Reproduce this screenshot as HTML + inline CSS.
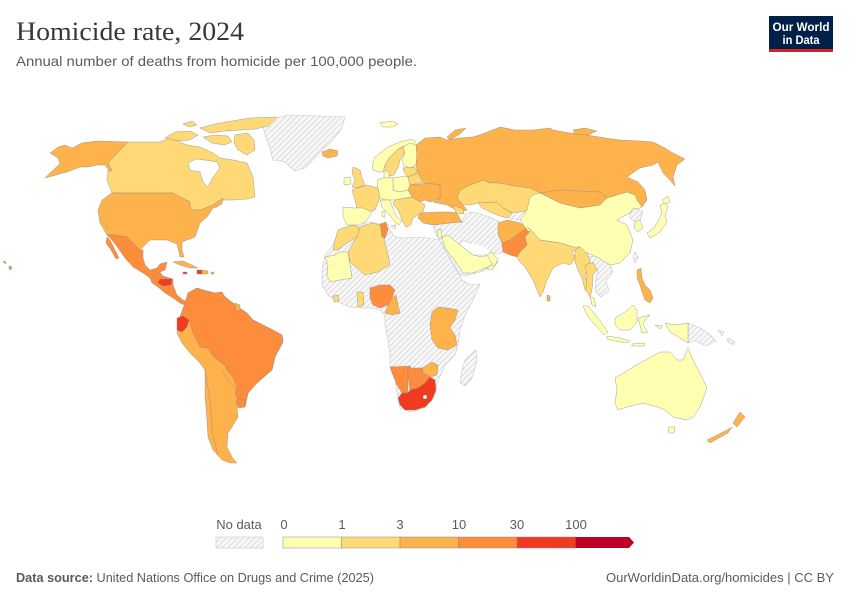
<!DOCTYPE html>
<html><head><meta charset="utf-8"><style>
html,body{margin:0;padding:0;background:#fff;}
svg{display:block;}
</style></head><body>
<svg width="850" height="600" viewBox="0 0 850 600" xmlns="http://www.w3.org/2000/svg">
<defs>
<pattern id="h" width="4" height="4" patternUnits="userSpaceOnUse" patternTransform="rotate(45)">
<rect width="4" height="4" fill="#f8f8f8"/>
<line x1="0" y1="0" x2="0" y2="4" stroke="#d4d4d4" stroke-width="1.6"/>
</pattern>
</defs>
<rect width="850" height="600" fill="#fff"/>

<text x="16" y="40" font-family="Liberation Serif, serif" font-size="26" fill="#383838" textLength="228" lengthAdjust="spacingAndGlyphs">Homicide rate, 2024</text>
<text x="16" y="66" font-family="Liberation Sans, sans-serif" font-size="14" fill="#5b5b5b" textLength="401" lengthAdjust="spacingAndGlyphs">Annual number of deaths from homicide per 100,000 people.</text>

<rect x="769" y="16" width="64" height="33" fill="#002147"/>
<rect x="769" y="49" width="64" height="3" fill="#ce261e"/>
<text x="801" y="31" text-anchor="middle" font-family="Liberation Sans, sans-serif" font-size="12" font-weight="bold" fill="#fff" textLength="57" lengthAdjust="spacingAndGlyphs">Our World</text>
<text x="801" y="44" text-anchor="middle" font-family="Liberation Sans, sans-serif" font-size="12" font-weight="bold" fill="#fff" textLength="37" lengthAdjust="spacingAndGlyphs">in Data</text>

<g stroke="#c8c8c8" stroke-width="0.6" fill="url(#h)" stroke-linejoin="round">
<polygon points="262,120 290,115 345,117 342,128 333,140 320,152 305,168 295,171 285,162 273,160 270,148 265,135"/>
<polygon points="345,228 355,225 370,222 380,224 388,224 390,230 395,237 405,238 418,237 428,238 440,240 442,245 448,255 455,268 462,280 470,285 480,284 473,300 465,315 460,330 458,345 455,355 445,365 437,383 435,395 425,408 410,412 400,408 398,398 395,380 390,368 390,355 388,340 385,325 385,315 380,310 372,308 360,308 350,307 338,302 328,295 322,285 322,270 325,255 333,245 340,232"/>
<polygon points="433,225 450,223 462,222 465,215 470,212 477,213 490,217 500,222 498,235 502,243 503,252 497,254 490,252 480,250 470,243 462,240 460,245 473,255 487,255 498,262 493,268 480,272 465,276 460,275 452,262 445,250 440,241 435,232"/>
<polygon points="510,212 522,210 530,211 528,218 518,220 510,218"/>
<polygon points="470,355 476,350 477,360 472,378 465,386 460,382 462,370 465,360"/>
<polygon points="630,211 638,209 643,212 640,220 635,222 630,218"/>
<polygon points="587,257 597,256 610,265 613,272 606,281 609,290 601,297 595,291 596,279 598,270 591,263"/>
<polygon points="633,258 635,252 638,257 635,263"/>
<polygon points="688,323 700,328 708,333 716,341 706,346 695,341 688,343"/>
<polygon points="718,330 724,332 722,336"/>
<polygon points="728,338 735,342 733,345 727,341"/>
</g>

<g stroke="#8a8a8a" stroke-width="0.5" stroke-opacity="0.8" stroke-linejoin="round">
<polygon fill="#feb24c" points="50,153 58,147 65,145 72,148 82,143 97,141 128,142 108,163 112,170 110,172 105,165 97,165 88,167 80,167 67,172 45,178 53,170 60,164 58,158"/>
<polygon fill="#fed976" points="128,142 160,142 170,138 187,145 200,147 213,153 220,158 233,160 247,163 253,177 255,197 247,199 233,200 223,200 217,207 200,210 190,210 190,202 180,197 173,193 112,193 110,188 107,180 108,170 110,172 112,170 108,163"/>
<polygon fill="#fff" stroke="#8a8a8a" points="188,163 196,159 205,160 217,162 220,168 213,177 208,187 203,182 200,172 190,170"/>
<!-- Arctic islands -->
<polygon fill="#fed976" points="165,138 175,132 190,131 198,135 190,140 178,141"/>
<polygon fill="#fed976" points="200,128 215,124 232,121 250,118 277,117 268,126 255,129 240,130 225,131 210,133"/>
<polygon fill="#fed976" points="203,137 215,135 228,136 232,142 224,145 212,143"/>
<polygon fill="#fed976" points="235,135 248,133 254,140 255,150 247,155 238,150 234,143"/>
<polygon fill="#fed976" points="183,124 192,121 197,125 189,127"/>
<polygon fill="#feb24c" points="112,193 173,193 180,197 190,202 190,210 200,210 213,205 223,198 222,204 213,208 207,217 200,223 195,237 187,240 182,242 182,250 184,257 180,257 177,244 167,240 150,240 143,247 140,250 133,243 127,237 113,235 107,235 100,223 98,210 102,200"/>
<polygon fill="#fd8d3c" points="107,235 113,235 127,237 133,243 140,250 143,250 143,258 145,265 150,270 157,268 160,264 167,262 165,270 160,272 155,275 150,278 143,273 133,267 125,258 118,248 112,240"/>
<polygon fill="#fd8d3c" points="107,237 110,240 115,250 119,258 116,259 111,250 106,243"/>
<polygon fill="#fd8d3c" points="150,278 155,275 160,272 163,276 173,279 173,285 177,295 183,300 188,302 187,306 180,303 173,298 165,293 158,287 152,283"/>
<polygon fill="#f03b20" points="160,279 172,279 171,285 163,286 158,283"/>
<polygon fill="#feb24c" points="173,262 183,261 192,265 198,268 190,268 180,265"/>
<polygon fill="#f03b20" points="197,270 202,270 202,274 197,274"/>
<polygon fill="#feb24c" points="202,270 208,271 208,274 202,274"/>
<polygon fill="#f03b20" points="183,272 187,272 187,274 183,274"/>
<polygon fill="#feb24c" points="211,272 214,272 214,274 211,274"/>
<polygon fill="#fd8d3c" points="3,262 5,261 6,264"/>
<polygon fill="#fd8d3c" points="9,266 12,267 11,270 9,269"/>
<polygon fill="#feb24c" points="188,293 197,288 203,290 215,293 222,292 225,297 233,303 238,307 247,313 253,320 273,330 282,335 283,342 275,357 272,370 257,383 248,393 245,407 237,407 238,417 232,427 228,433 227,447 232,457 237,463 230,463 222,460 213,450 208,437 207,420 205,397 205,370 200,363 190,353 182,343 177,333 178,323 180,317 185,303"/>
<polygon fill="#fd8d3c" points="188,293 197,288 203,290 215,293 222,292 225,297 233,303 238,307 247,313 253,320 273,330 282,335 283,342 275,357 272,370 257,383 248,393 245,407 240,406 238,400 235,393 237,387 233,377 228,372 225,365 215,358 210,350 207,348 200,347 193,333 189,320 180,317 185,303"/>
<polygon fill="#feb24c" points="235,303 240,305 240,311 236,311"/>
<polygon fill="#fd8d3c" points="237,398 245,400 245,407 239,408 236,403"/>
<polygon fill="#f03b20" points="177,318 183,316 189,320 187,327 182,332 177,330"/>
<polyline fill="none" points="207,348 215,358 225,365 228,372 233,377"/>
<polyline fill="none" points="222,370 228,380 236,388"/>
<polyline fill="none" points="205,370 210,400 212,430 218,455"/>
<polygon fill="#feb24c" points="322,152 330,149 338,151 337,156 328,158 323,156"/>
<polygon fill="#ffffb2" points="380,123 392,121 398,124 392,127 383,127"/>
<polygon fill="#ffffb2" points="372,165 375,157 388,147 400,142 412,139 416,142 412,146 403,146 397,150 390,157 385,165 383,172 378,172 373,170"/>
<polygon fill="#fed976" points="385,165 390,157 397,150 403,147 405,152 400,160 398,168 394,175 388,176 385,172"/>
<polygon fill="#ffffb2" points="403,147 410,143 416,145 417,155 416,165 410,168 404,166 402,160 405,153"/>
<polygon fill="#feb24c" points="416,145 425,138 440,137 447,140 460,138 473,137 485,133 500,127 515,130 533,130 550,128 553,130 570,133 587,135 605,138 620,140 640,141 653,142 663,147 673,153 685,159 677,165 673,177 675,186 668,178 663,173 658,162 653,165 640,168 627,177 638,182 645,190 647,200 642,207 637,200 635,195 627,192 607,198 600,205 580,208 560,203 540,193 535,194 530,188 515,186 500,183 490,183 483,180 470,185 460,190 457,198 463,205 467,210 460,212 447,205 433,202 440,198 440,185 427,183 423,182 418,173 416,165 417,155"/>
<polygon fill="#feb24c" points="447,137 455,130 466,128 460,134 450,140"/>
<polygon fill="#feb24c" points="573,130 585,128 597,131 588,135 575,134"/>
<polyline fill="none" points="540,193 560,190 580,191 600,192 607,198"/>
<polygon fill="#fed976" points="403,168 415,167 418,173 408,177 405,174"/>
<polygon fill="#fed976" points="408,177 418,173 423,182 410,185"/>
<polygon fill="#feb24c" points="410,185 427,183 440,185 440,198 430,202 425,200 420,202 412,197 408,190"/>
<polygon fill="#ffffb2" points="393,178 405,176 408,177 410,185 408,190 400,192 393,190"/>
<polygon fill="#ffffb2" points="378,180 385,177 393,178 393,190 400,192 408,190 412,197 405,198 395,200 385,200 380,198 377,188"/>
<polygon fill="#ffffb2" points="384,171 389,171 389,178 384,178"/>
<polygon fill="#fed976" points="395,200 405,198 412,197 420,202 425,205 423,212 418,215 413,218 411,225 406,227 403,222 398,210 393,204"/>
<polygon fill="#ffffb2" points="380,200 390,200 392,206 396,216 402,221 399,225 395,222 388,213 382,207"/>
<polygon fill="#ffffb2" points="391,226 396,225 395,229"/>
<polygon fill="#ffffb2" points="382,211 385,211 385,217 382,217"/>
<polygon fill="#fed976" points="352,190 367,185 378,188 380,198 377,205 375,210 367,212 357,210 355,200"/>
<polygon fill="#ffffb2" points="343,207 355,208 363,208 372,212 367,220 360,225 347,225 343,217"/>
<polygon fill="#fed976" points="353,167 360,170 362,178 365,185 357,188 352,187 355,180 352,173"/>
<polygon fill="#ffffb2" points="344,178 350,177 351,184 344,185"/>
<polygon fill="#feb24c" points="420,213 437,212 450,212 457,213 462,222 450,223 433,225 423,223 418,218"/>
<polygon fill="#fed976" points="453,205 463,209 464,214 456,213"/>
<polygon fill="#fed976" points="460,190 470,185 483,180 490,183 500,183 515,186 530,188 540,193 535,200 530,210 513,213 503,208 497,202 478,203 470,205 463,205 457,198"/>
<polygon fill="#fed976" points="478,203 497,202 503,208 512,213 508,218 500,216 490,212 482,208"/>
<polygon fill="#feb24c" points="498,223 508,220 520,223 527,227 520,233 510,240 502,243 498,233"/>
<polygon fill="#fd8d3c" points="502,243 510,240 520,233 527,227 531,230 525,237 527,245 520,252 517,257 510,255 503,252"/>
<polygon fill="#ffffb2" points="442,237 448,235 460,245 473,255 482,257 487,255 497,262 493,265 480,270 473,273 463,273 458,265 452,257 445,248"/>
<polygon fill="#ffffb2" points="487,255 492,252 498,260 492,270 486,268 493,265"/>
<polygon fill="#fff" stroke="none" points="471,243 482,246 490,251 487,254 480,252 473,248"/>
<polygon fill="#ffffb2" points="437,230 441,229 442,238 438,238"/>
<polygon fill="#ffffb2" points="530,197 535,194 540,193 560,203 580,208 600,205 607,198 627,192 635,195 637,200 642,207 638,209 633,208 630,213 622,217 617,220 627,225 633,240 630,253 620,263 610,265 597,257 587,253 573,247 560,243 540,240 527,230 520,220 527,210"/>
<polygon fill="#ffffb2" points="635,222 640,220 643,228 638,232 634,228"/>
<polygon fill="#ffffb2" points="647,233 652,230 657,223 662,213 660,205 665,203 668,207 665,215 667,222 660,232 650,238"/>
<polygon fill="#ffffb2" points="662,200 668,196 670,202 665,204"/>
<polygon fill="#fed976" points="527,227 531,230 525,237 527,245 520,252 517,257 520,262 525,267 533,280 537,290 540,297 543,292 547,280 553,268 563,263 570,265 573,262 575,257 572,252 575,250 580,247 573,247 560,243 540,240 533,232"/>
<polygon fill="#feb24c" points="547,295 550,296 550,301 547,301"/>
<polygon fill="#fed976" points="575,250 580,247 587,253 590,260 588,268 585,275 588,285 590,292 585,290 582,278 578,270 575,262"/>
<polygon fill="#fed976" points="585,265 593,262 597,270 593,275 592,290 590,297 586,290 587,275"/>
<polygon fill="#ffffb2" points="590,297 594,298 596,307 592,305"/>
<polygon fill="#feb24c" points="637,270 641,268 642,278 645,285 650,290 653,298 650,303 645,300 642,292 640,285 637,278"/>
<polygon fill="#ffffb2" points="583,306 588,306 598,318 608,332 604,335 595,325 587,315"/>
<polygon fill="#ffffb2" points="607,336 620,338 630,341 628,343 615,341 607,339"/>
<polygon fill="#ffffb2" points="615,318 625,312 633,305 637,310 637,322 630,330 620,330 615,325"/>
<polygon fill="#ffffb2" points="638,318 650,315 645,320 643,325 648,332 642,333 640,325"/>
<polygon fill="#ffffb2" points="632,344 645,343 644,346 632,346"/>
<polygon fill="#ffffb2" points="655,325 662,326 660,329"/>
<polygon fill="#ffffb2" points="665,323 675,325 688,323 688,343 680,338 670,332"/>
<polygon fill="#ffffb2" points="615,378 620,375 640,363 660,352 670,352 677,360 683,360 688,348 693,360 702,377 707,388 700,407 693,417 687,420 673,417 665,410 658,407 643,403 627,407 618,410 615,403 617,390"/>
<polygon fill="#ffffb2" points="668,427 675,427 674,433 669,433"/>
<polygon fill="#feb24c" points="733,423 740,412 745,417 737,427"/>
<polygon fill="#feb24c" points="707,440 727,430 732,427 728,433 710,443"/>
<polygon fill="#fed976" points="338,230 343,228 353,225 360,228 357,237 347,243 338,250 333,250 335,240"/>
<polygon fill="#ffffb2" points="325,257 335,255 340,252 348,252 350,265 352,278 340,280 330,282 327,275 328,265"/>
<polygon fill="#fed976" points="360,227 372,223 380,225 383,233 385,243 388,255 390,265 378,272 365,275 350,262 348,252 355,240 357,237"/>
<polygon fill="#fd8d3c" points="380,224 386,222 388,230 385,238 382,237 381,230"/>
<polygon fill="#fd8d3c" points="370,288 380,285 390,285 395,290 392,298 388,305 380,308 373,305 370,298"/>
<polygon fill="#feb24c" points="388,305 392,298 396,295 398,305 400,313 393,315 385,313"/>
<polygon fill="#fed976" points="357,292 363,292 364,305 358,307"/>
<polygon fill="#fed976" points="333,296 338,295 339,301 334,302"/>
<polygon fill="#feb24c" points="432,312 438,307 447,308 458,310 455,320 450,328 455,335 457,345 448,350 438,348 432,340 430,325"/>
<polygon fill="#feb24c" points="422,368 432,362 438,365 437,375 430,377 423,373"/>
<polygon fill="#fd8d3c" points="390,367 410,366 412,372 408,375 408,393 402,393 397,385 393,375"/>
<polygon fill="#fd8d3c" points="408,368 422,368 423,373 430,377 425,383 418,388 410,390 408,375"/>
<polygon fill="#f03b20" points="402,393 408,393 410,390 418,388 425,383 430,377 435,380 436,390 432,400 425,407 415,410 405,410 400,405 398,398"/>
<circle cx="425" cy="397" r="2" fill="#fff"/>
</g>

<g font-family="Liberation Sans, sans-serif" font-size="13" fill="#5b5b5b" text-anchor="middle">
<text x="239" y="529">No data</text>
<text x="284" y="529">0</text>
<text x="342" y="529">1</text>
<text x="400" y="529">3</text>
<text x="459" y="529">10</text>
<text x="517" y="529">30</text>
<text x="576" y="529">100</text>
</g>
<rect x="216" y="537" width="47" height="11" fill="url(#h)" stroke="#c8c8c8" stroke-width="0.6"/>
<g stroke="#8a8a8a" stroke-width="0.5">
<rect x="283" y="537" width="58.5" height="11" fill="#ffffb2"/>
<rect x="341.5" y="537" width="58.5" height="11" fill="#fed976"/>
<rect x="400" y="537" width="58.5" height="11" fill="#feb24c"/>
<rect x="458.5" y="537" width="58.5" height="11" fill="#fd8d3c"/>
<rect x="517" y="537" width="58.5" height="11" fill="#f03b20"/>
</g>
<polygon points="575.5,537 629,537 634,542.5 629,548 575.5,548" fill="#bd0026"/>

<text x="16" y="582" font-family="Liberation Sans, sans-serif" font-size="13" fill="#5b5b5b" textLength="358" lengthAdjust="spacingAndGlyphs"><tspan font-weight="bold">Data source:</tspan> United Nations Office on Drugs and Crime (2025)</text>
<text x="834" y="582" text-anchor="end" font-family="Liberation Sans, sans-serif" font-size="13" fill="#5b5b5b" textLength="228" lengthAdjust="spacingAndGlyphs">OurWorldinData.org/homicides | CC BY</text>
</svg>
</body></html>
